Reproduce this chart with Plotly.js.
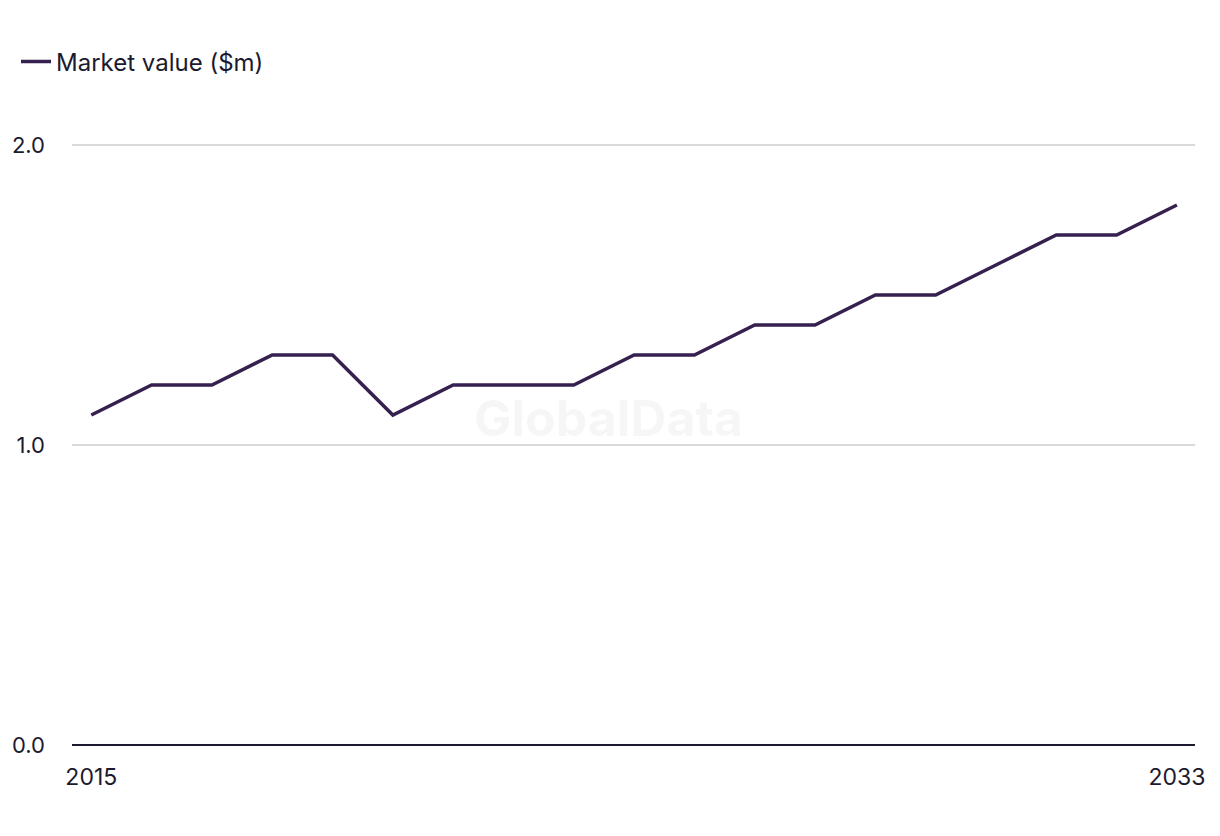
<!DOCTYPE html>
<html>
<head>
<meta charset="utf-8">
<script src="https://cdn.plot.ly/plotly-3.0.1.min.js"></script>
<style>html,body{margin:0;padding:0;background:#fff;}#chart{width:1220px;height:836px;}</style>
</head>
<body>
<div id="chart"></div>
<script>
const years = [2015,2016,2017,2018,2019,2020,2021,2022,2023,2024,2025,2026,2027,2028,2029,2030,2031,2032,2033];
const marketValue = [1.1,1.2,1.2,1.3,1.3,1.1,1.2,1.2,1.2,1.3,1.3,1.4,1.4,1.5,1.5,1.6,1.7,1.7,1.8];
const seriesName = 'Market value ($m)';
const xTicks = [2015, 2033];
const yTicks = [0, 1, 2];
const yTickLabels = ['0.0', '1.0', '2.0'];

const textColor = '#1c1a2e';
const fontFamily = 'Inter, Liberation Sans, Arial, sans-serif';

const data = [{
  x: years, y: marketValue, name: seriesName, type: 'scatter', mode: 'lines',
  line: {color: '#35204f', width: 3.5}, showlegend: true
}];

const layout = {
  width: 1220, height: 836,
  margin: {l: 72, r: 25, t: 139, b: 91},
  paper_bgcolor: '#fff', plot_bgcolor: '#fff',
  font: {family: fontFamily, size: 22, color: textColor},
  showlegend: true,
  legend: {x: 16/1220, y: 1 - 62/836, xref: 'container', yref: 'container', xanchor: 'left', yanchor: 'middle', orientation: 'h',
           font: {family: fontFamily, size: 24, color: textColor}, itemwidth: 30, bgcolor: 'rgba(0,0,0,0)'},
  xaxis: {range: [2014.68, 2033.3], tickvals: xTicks, ticktext: xTicks.map(String), showgrid: false, zeroline: false,
          showline: false, ticks: '', ticklabelstandoff: 16, tickfont: {size: 23, color: textColor}, fixedrange: true},
  yaxis: {range: [0, 2.02], tickvals: yTicks, ticktext: yTickLabels, showgrid: true, gridcolor: '#d9d9d9', gridwidth: 1.5,
          zeroline: true, zerolinecolor: '#1c1a2e', zerolinewidth: 2, showline: false, ticks: '',
          ticklabelstandoff: 26, tickfont: {size: 22, color: textColor}, fixedrange: true},
  annotations: [{text: '<b>GlobalData</b>', x: 0.478, y: 0.54, xref: 'paper', yref: 'paper', showarrow: false,
                 font: {family: fontFamily, size: 50, color: 'rgba(0,0,0,0.035)'}}]
};
Plotly.newPlot('chart', data, layout, {displayModeBar: false, staticPlot: true});
</script>
</body>
</html>
